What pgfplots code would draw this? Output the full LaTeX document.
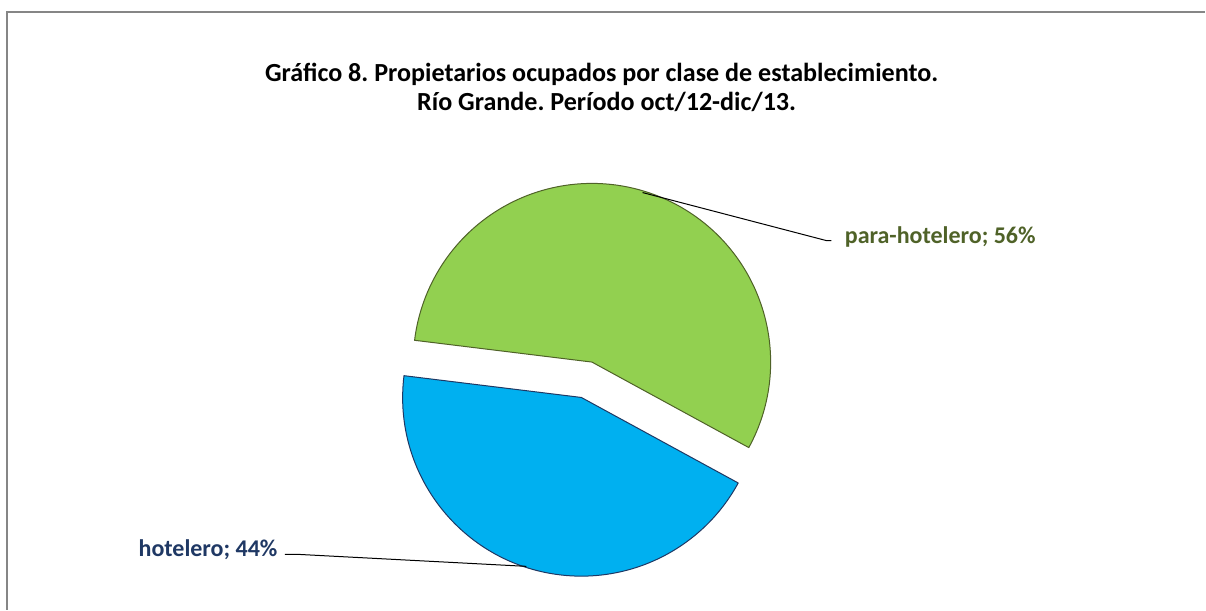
\documentclass[border=0pt]{standalone}
\usepackage{fontspec}
\setmainfont{Carlito}
\usepackage{pgfplots}
\pgfplotsset{compat=1.18}
\frenchspacing
\definecolor{pgreen}{HTML}{92D050}
\definecolor{pgreenD}{HTML}{4F6228}
\definecolor{pblue}{HTML}{00B0F0}
\definecolor{pblueD}{HTML}{1F3864}
\definecolor{frameC}{HTML}{868686}
% data (percent)
\def\vHot{44}
\def\vPara{56}
\pgfmathsetmacro{\aStart}{-28.6}
\pgfmathsetmacro{\aMid}{\aStart+3.6*\vPara}
\pgfmathsetmacro{\aEnd}{\aMid+3.6*\vHot}
\def\R{89.4pt}
\begin{document}
\begin{tikzpicture}
\begin{axis}[x=0.5pt,y=0.5pt,xmin=0,xmax=1206,ymin=0,ymax=610,
  y dir=reverse, hide axis, clip=false, scale only axis]
\path (axis cs:0,0) rectangle (axis cs:1206,610);
\draw[frameC, line width=0.75pt] (axis cs:7,610) -- (axis cs:7,12) -- (axis cs:1206,12);
\filldraw[fill=pgreen, draw=pgreenD, line width=0.5pt, line join=round]
  (axis cs:592.3,362.3) -- ++(\aStart:\R) arc[start angle=\aStart, end angle=\aMid, radius=\R] -- cycle;
\filldraw[fill=pblue, draw=pblueD, line width=0.5pt, line join=round]
  (axis cs:581.7,397.7) -- ++(\aMid:\R) arc[start angle=\aMid, end angle=\aEnd, radius=\R] -- cycle;
\draw[black, line width=0.5pt] (axis cs:643,192.7) -- (axis cs:826.7,240.7) -- (axis cs:832,240.7);
\draw[black, line width=0.5pt] (axis cs:526.7,566.7) -- (axis cs:298,554.7) -- (axis cs:285,554.7);
\node[anchor=base west, inner sep=0pt, text=pgreenD, font=\fontsize{12}{14}\selectfont\bfseries] at (axis cs:845,244) {para-hotelero; \vPara\%};
\node[anchor=base east, inner sep=0pt, text=pblueD, font=\fontsize{12}{14}\selectfont\bfseries] at (axis cs:278,556.7) {hotelero; \vHot\%};
\node[anchor=base, inner sep=0pt, font=\fontsize{13.05}{15}\selectfont\bfseries] at (axis cs:602,82) {Gráfico 8. Propietarios ocupados por clase de establecimiento.};
\node[anchor=base, inner sep=0pt, font=\fontsize{13.05}{15}\selectfont\bfseries] at (axis cs:607,111) {Río Grande. Período oct/12-dic/13.};
\end{axis}
\end{tikzpicture}
\end{document}
